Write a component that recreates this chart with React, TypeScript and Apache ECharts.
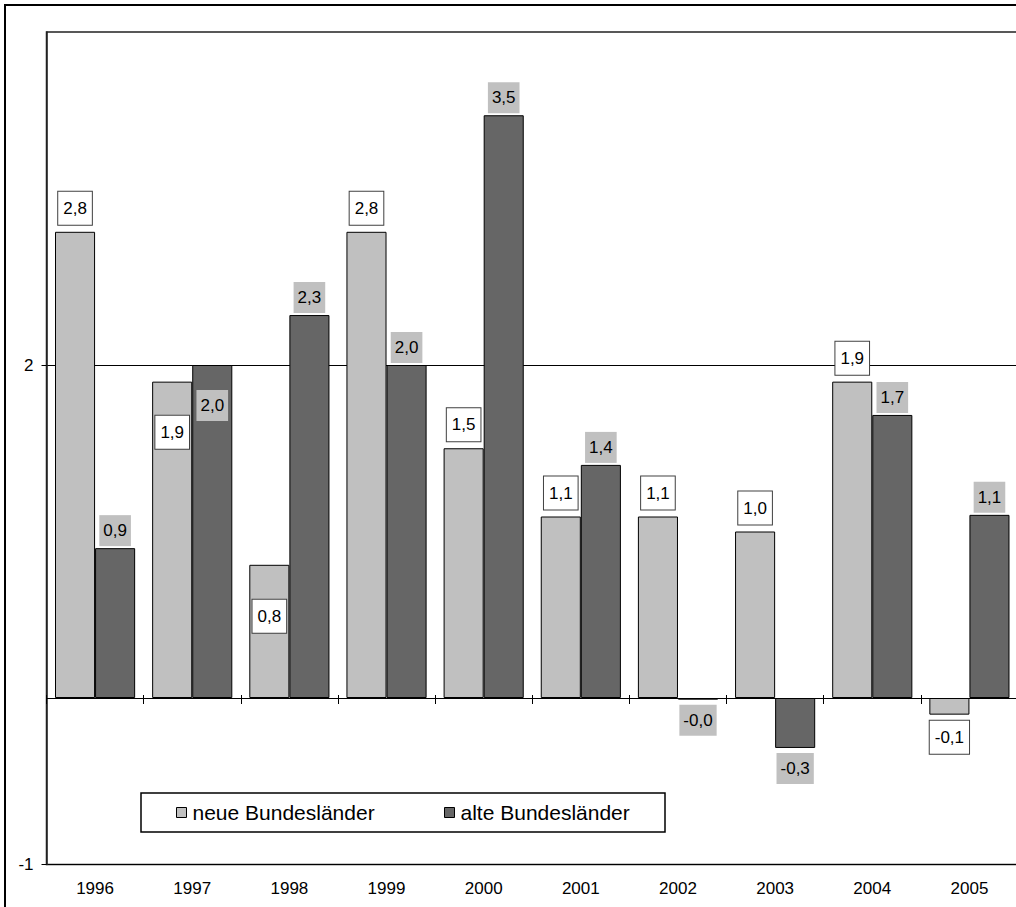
import React, { useEffect, useRef } from "react";
import * as echarts from "echarts";

const years = ["1996", "1997", "1998", "1999", "2000", "2001", "2002", "2003", "2004", "2005"];
const neueBundeslaender = [2.8, 1.9, 0.8, 2.8, 1.5, 1.09, 1.09, 1.0, 1.9, -0.1];
const alteBundeslaender = [0.9, 2.0, 2.3, 2.0, 3.5, 1.4, -0.01, -0.3, 1.7, 1.1];
const yTickValues = [-1, 2];
const seriesNames = ["neue Bundesländer", "alte Bundesländer"];

const FONT = "'Liberation Sans', Arial, sans-serif";
const fmt = (v: number) => v.toFixed(1).replace(".", ",");

export default function App() {
  const ref = useRef<HTMLDivElement>(null);
  useEffect(() => {
    if (!ref.current) return;
    const chart = echarts.init(ref.current, null, { renderer: "svg" });

    const neueInside: Record<number, number> = { 1: 34, 2: 35 };
    const alteInside: Record<number, number> = { 1: 25 };

    const baseLabel = {
      show: true,
      position: "outside",
      color: "#000",
      fontSize: 17,
      fontFamily: FONT,
      lineHeight: 17,
      formatter: (p: any) => fmt(p.value),
    };
    const neueLabel = {
      ...baseLabel,
      distance: 7,
      backgroundColor: "#fff",
      borderColor: "#404040",
      borderWidth: 1,
      padding: [8, 5, 8, 5],
    };
    const alteLabel = {
      ...baseLabel,
      distance: 2,
      backgroundColor: "#c0c0c0",
      padding: [7, 4, 7, 4],
    };

    const neueData = neueBundeslaender.map((v, i) =>
      neueInside[i] != null
        ? { value: v, label: { position: "insideTop", distance: neueInside[i] } }
        : v < 0
        ? { value: v, label: { distance: 6 } }
        : v
    );
    const alteData = alteBundeslaender.map((v, i) =>
      alteInside[i] != null
        ? { value: v, label: { position: "insideTop", distance: alteInside[i] } }
        : v < 0
        ? { value: v, label: { distance: 5 } }
        : v
    );

    const legendCommon = {
      orient: "horizontal",
      top: 802,
      itemWidth: 10,
      itemHeight: 10,
      icon: "rect",
      padding: 0,
      itemStyle: { borderColor: "#000", borderWidth: 1 },
      textStyle: { fontSize: 21, fontFamily: FONT, color: "#000", padding: [0, 0, 0, 1] },
      selectedMode: false,
    };

    chart.setOption({
      animation: false,
      backgroundColor: "#fff",
      grid: {
        left: 46.5,
        top: 32,
        right: 2,
        bottom: 42.5,
        show: true,
        borderColor: "#222",
        borderWidth: 1.5,
        backgroundColor: "transparent",
      },
      legend: [
        { ...legendCommon, left: 176, data: [seriesNames[0]] },
        { ...legendCommon, left: 444, data: [seriesNames[1]] },
      ],
      graphic: [
        {
          type: "rect",
          shape: { x: 5, y: 5, width: 1030, height: 920 },
          style: { fill: "none", stroke: "#000", lineWidth: 2 },
          silent: true,
          z: 100,
        },
        {
          type: "rect",
          shape: { x: 141, y: 793, width: 524, height: 39 },
          style: { fill: "#fff", stroke: "#000", lineWidth: 1.5 },
          silent: true,
          z: 0,
        },
      ],
      xAxis: [
        {
          type: "category",
          data: years,
          position: "bottom",
          axisLine: { show: true, onZero: true, lineStyle: { color: "#000", width: 1 } },
          axisTick: { show: true, length: 6, lineStyle: { color: "#000" } },
          axisLabel: { show: false },
          splitLine: { show: false },
        },
        {
          type: "category",
          data: years,
          position: "bottom",
          axisLine: { show: true, onZero: true, onZeroAxisIndex: 0, lineStyle: { color: "#000", width: 1 } },
          axisTick: { show: true, inside: true, length: 3, lineStyle: { color: "#000" } },
          axisLabel: { show: false },
          splitLine: { show: false },
        },
        {
          type: "category",
          data: years,
          position: "bottom",
          axisLine: { show: false, onZero: false },
          axisTick: { show: false },
          axisLabel: { show: true, margin: 15, fontSize: 17, fontFamily: FONT, color: "#000" },
          splitLine: { show: false },
        },
      ],
      yAxis: {
        type: "value",
        min: -1,
        max: 4,
        interval: 3,
        axisLine: { show: true, lineStyle: { color: "#222", width: 1.5 } },
        axisTick: { show: true, length: 5, customValues: yTickValues, lineStyle: { color: "#000" } },
        axisLabel: {
          show: true,
          customValues: yTickValues,
          margin: 13,
          fontSize: 17,
          fontFamily: FONT,
          color: "#000",
          formatter: (v: number) => (yTickValues.includes(v) ? String(v) : ""),
        },
        splitLine: { show: true, lineStyle: { color: "#000", width: 1 } },
      },
      series: [
        {
          name: seriesNames[0],
          type: "bar",
          xAxisIndex: 0,
          data: neueData,
          barGap: "0%",
          barCategoryGap: "17.5%",
          itemStyle: { color: "#c0c0c0", borderColor: "#000", borderWidth: 1 },
          label: neueLabel,
          z: 3,
        },
        {
          name: seriesNames[1],
          type: "bar",
          xAxisIndex: 0,
          data: alteData,
          barGap: "0%",
          barCategoryGap: "17.5%",
          itemStyle: { color: "#666666", borderColor: "#000", borderWidth: 1 },
          label: alteLabel,
          z: 3,
        },
      ],
    });
    return () => chart.dispose();
  }, []);

  return (
    <div
      style={{
        position: "absolute",
        left: 0,
        top: 0,
        width: 1016,
        height: 907,
        overflow: "hidden",
        background: "#fff",
      }}
    >
      <div ref={ref} style={{ width: 1020, height: 907 }} />
    </div>
  );
}
